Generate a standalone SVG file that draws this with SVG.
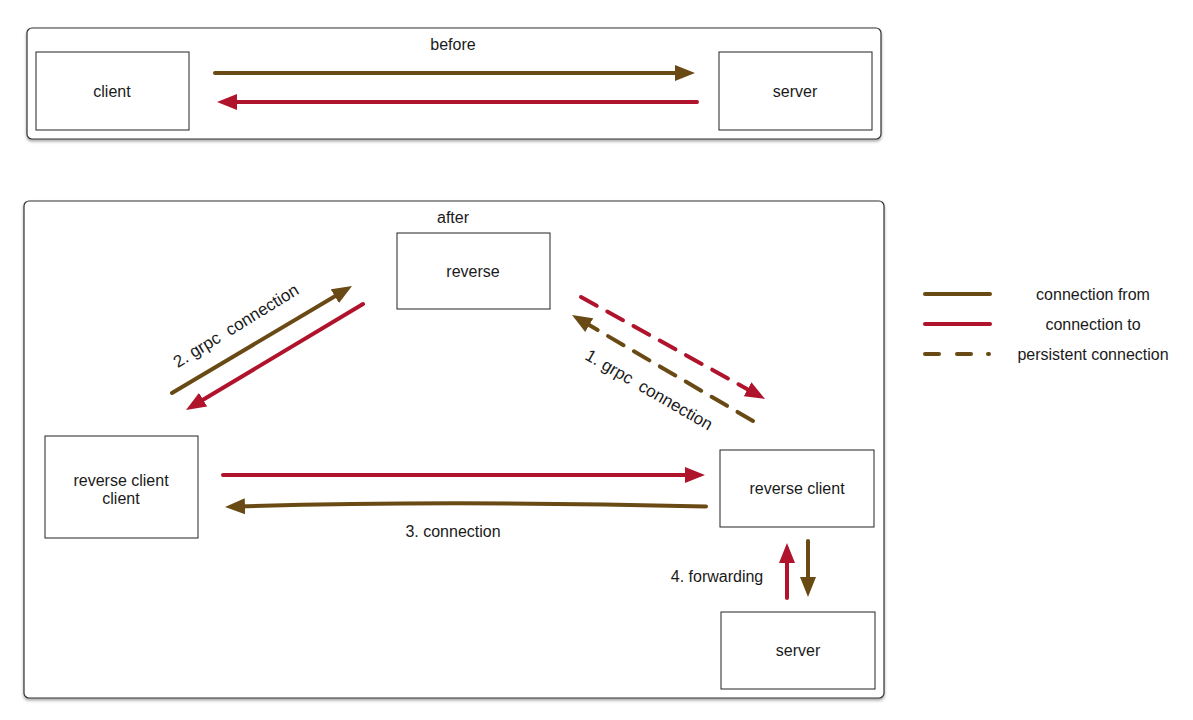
<svg xmlns="http://www.w3.org/2000/svg" width="1193" height="720" viewBox="0 0 1193 720">
<style>
text{font-family:"Liberation Sans",Arial,sans-serif;font-size:16px;fill:#1a1a1a;text-anchor:middle;dominant-baseline:central}
.rot{font-size:17px}
.panel{fill:#fff;stroke:#333;stroke-width:1.2}
.box{fill:#fff;stroke:#222;stroke-width:1}
.br{stroke:#6a4a14;stroke-width:4;fill:none;stroke-linecap:round}
.rd{stroke:#b0132c;stroke-width:4;fill:none;stroke-linecap:round}
.dash{stroke-dasharray:18 12;stroke-linecap:round}
</style>
<defs>
<filter id="sh" x="-5%" y="-5%" width="110%" height="115%">
<feDropShadow dx="0" dy="2" stdDeviation="1.5" flood-color="#000" flood-opacity="0.35"/>
</filter>
<marker id="ab" viewBox="0 0 20 16" refX="6" refY="8" markerWidth="20" markerHeight="16" markerUnits="userSpaceOnUse" orient="auto">
<path d="M0,0 L20,8 L0,16 Z" fill="#6a4a14"/>
</marker>
<marker id="ar" viewBox="0 0 20 16" refX="6" refY="8" markerWidth="20" markerHeight="16" markerUnits="userSpaceOnUse" orient="auto">
<path d="M0,0 L20,8 L0,16 Z" fill="#b0132c"/>
</marker>
</defs>
<rect width="1193" height="720" fill="#fff"/>
<g id="panel-before">
<rect class="panel" x="27" y="28" width="854" height="111" rx="5" filter="url(#sh)"/>
<text x="453" y="44">before</text>
</g>
<g id="panel-after">
<rect class="panel" x="24" y="201" width="860" height="497" rx="5" filter="url(#sh)"/>
<text x="453" y="217">after</text>
</g>
<g id="node-client">
<rect class="box" x="36" y="52" width="153" height="78"/>
<text x="112" y="91">client</text>
</g>
<g id="node-server-top">
<rect class="box" x="719" y="52" width="153" height="78"/>
<text x="795" y="91">server</text>
</g>
<g id="node-reverse">
<rect class="box" x="397" y="233" width="153" height="76"/>
<text x="473" y="271">reverse</text>
</g>
<g id="node-reverse-client-client">
<rect class="box" x="45" y="436" width="153" height="102"/>
<text x="121" y="480">reverse client</text>
<text x="121" y="498">client</text>
</g>
<g id="node-reverse-client">
<rect class="box" x="720" y="450" width="154" height="77"/>
<text x="797" y="488">reverse client</text>
</g>
<g id="node-server-bottom">
<rect class="box" x="721" y="612" width="154" height="77"/>
<text x="798" y="650">server</text>
</g>
<g id="connectors">
<line class="br" x1="215" y1="73" x2="681" y2="73" marker-end="url(#ab)"/>
<line class="rd" x1="697" y1="102" x2="231" y2="102" marker-end="url(#ar)"/>
<line class="br" x1="172" y1="393" x2="340" y2="293.2" marker-end="url(#ab)"/>
<line class="rd" x1="363" y1="304" x2="198" y2="402.8" marker-end="url(#ar)"/>
<line class="rd dash" x1="581" y1="297" x2="752.8" y2="392.2" marker-end="url(#ar)"/>
<line class="br dash" x1="753" y1="421" x2="584.1" y2="322.1" marker-end="url(#ab)"/>
<line class="rd" x1="223" y1="475" x2="691" y2="475" marker-end="url(#ar)"/>
<path class="br" d="M706,506.5 Q440,500 239,506.5" marker-end="url(#ab)"/>
<line class="rd" x1="787" y1="598" x2="787" y2="557" marker-end="url(#ar)"/>
<line class="br" x1="808" y1="541" x2="808" y2="583" marker-end="url(#ab)"/>
<text class="rot" x="236" y="326" transform="rotate(-31.5 236 326)" xml:space="preserve">2. grpc  connection</text>
<text class="rot" x="649" y="390" transform="rotate(30 649 390)" xml:space="preserve">1. grpc  connection</text>
<text x="453" y="531">3. connection</text>
<text x="717" y="576">4. forwarding</text>
</g>
<g id="legend">
<line class="br" x1="925" y1="294" x2="990" y2="294"/>
<text x="1093" y="294">connection from</text>
<line class="rd" x1="925" y1="324" x2="990" y2="324"/>
<text x="1093" y="324">connection to</text>
<path class="br" d="M925,354 H939 M957,354 H971 M988,354 H989"/>
<text x="1093" y="354">persistent connection</text>
</g>
</svg>
